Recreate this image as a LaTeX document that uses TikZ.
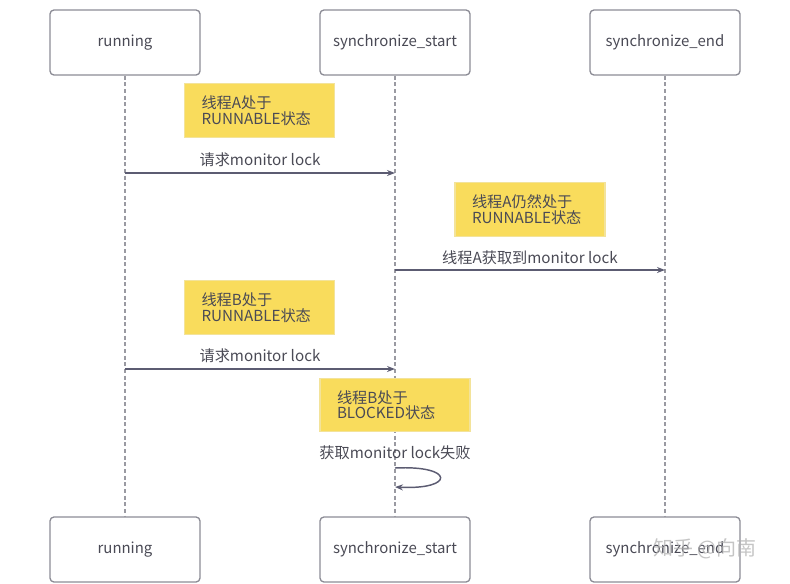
\documentclass[tikz,border=0pt]{standalone}
\usepackage{fontspec}
\setmainfont{Noto Sans CJK SC}
\usetikzlibrary{arrows.meta}
\definecolor{boxline}{HTML}{8C8C96}
\definecolor{txt}{HTML}{4A4A55}
\definecolor{notefill}{HTML}{F9DC5C}
\definecolor{noteline}{HTML}{F3E39A}
\definecolor{arrowc}{HTML}{5C5C72}
\definecolor{lifec}{HTML}{9A9AA2}
\tikzset{
  actor/.style={draw=boxline, line width=1pt, rounded corners=3pt, fill=white,
    minimum width=112.5pt, minimum height=48.75pt, text=txt, font=\fontsize{11.2pt}{12pt}\selectfont, inner sep=0pt},
  note/.style={draw=noteline, line width=0.8pt, fill=notefill, minimum width=112.5pt, minimum height=40pt,
    text=txt, font=\fontsize{11.4pt}{11.6pt}\selectfont, align=left, inner sep=0pt},
  lifeline/.style={draw=lifec, line width=0.8pt, dash pattern=on 3pt off 2pt},
  msg/.style={draw=arrowc, line width=1.1pt, -{Stealth[length=6pt,width=4.5pt]}},
  lbl/.style={text=txt, font=\fontsize{11.4pt}{12pt}\selectfont, inner sep=0pt},
  wm/.style={text=gray!60, opacity=0.75, font=\fontsize{15pt}{16pt}\selectfont, inner sep=0pt}
}
\begin{document}
\begin{tikzpicture}[x=0.75pt, y=-0.75pt]
\useasboundingbox (0,0) rectangle (790,583);
% actors top
\node[actor] (r1) at (125,42.5) {running};
\node[actor] (s1) at (395,42.5) {synchronize\_start};
\node[actor] (e1) at (665,42.5) {synchronize\_end};
% actors bottom
\node[actor] (r2) at (125,549.5) {running};
\node[actor] (s2) at (395,549.5) {synchronize\_start};
\node[actor] (e2) at (665,549.5) {synchronize\_end};
% lifelines
\draw[lifeline] (r1.south) -- (r2.north);
\draw[lifeline] (s1.south) -- (s2.north);
\draw[lifeline] (e1.south) -- (e2.north);
% notes
\node[note] (n1) at (259.5,110.5) {\hspace*{12.5pt}\parbox{99.5pt}{线程A处于\\RUNNABLE状态}};
\node[note] (n2) at (530,209.5) {\hspace*{12.5pt}\parbox{99.5pt}{线程A仍然处于\\RUNNABLE状态}};
\node[note] (n3) at (259.5,307.5) {\hspace*{12.5pt}\parbox{99.5pt}{线程B处于\\RUNNABLE状态}};
\node[note] (n4) at (395,405) {\hspace*{12.5pt}\parbox{99.5pt}{线程B处于\\BLOCKED状态}};
% message 1
\coordinate (m1a) at (125,173);
\coordinate (m1b) at (395,173);
\draw[msg] (m1a) -- (m1b);
\node[lbl] (l1) at (260,160) {请求monitor lock};
% message 2
\coordinate (m2a) at (395,270);
\coordinate (m2b) at (665,270);
\draw[msg] (m2a) -- (m2b);
\node[lbl] (l2) at (530,258) {线程A获取到monitor lock};
% message 3
\coordinate (m3a) at (125,369);
\coordinate (m3b) at (395,369);
\draw[msg] (m3a) -- (m3b);
\node[lbl] (l3) at (260,356) {请求monitor lock};
% self message
\node[lbl] (l4) at (395,453) {获取monitor lock失败};
\coordinate (m4a) at (395,468);
\coordinate (m4b) at (395,487);
\draw[msg] (m4a) .. controls (455,465) and (455,490) .. (m4b);
% watermark
\node[wm] (w) at (705,549) {知乎 @向南};
\end{tikzpicture}
\end{document}
